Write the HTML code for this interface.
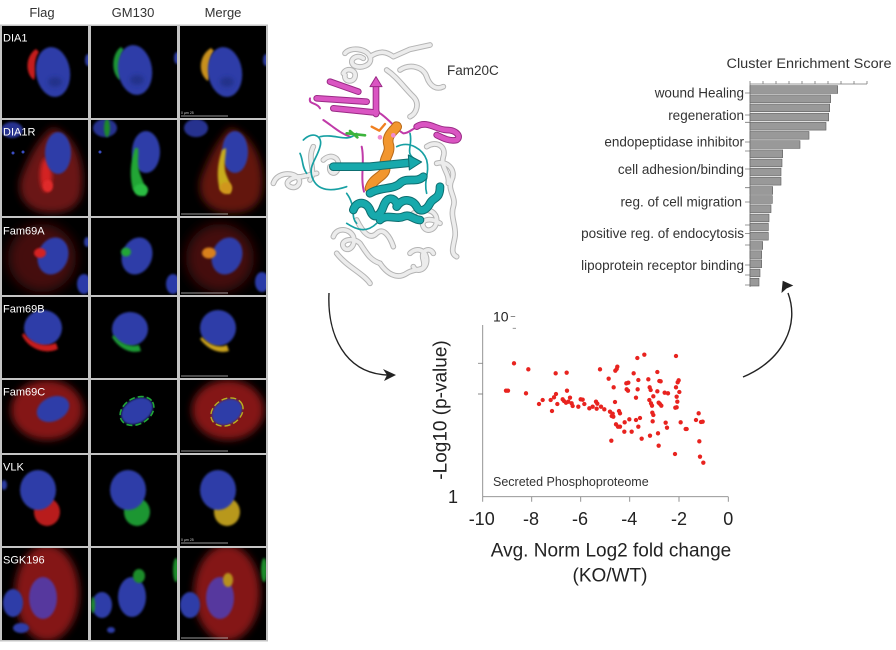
<!DOCTYPE html>
<html><head><meta charset="utf-8"><style>
html,body{margin:0;padding:0;background:#fff;}
svg{display:block;}
text{font-family:"Liberation Sans",Arial,sans-serif;}
</style></head><body>
<svg width="896" height="650" viewBox="0 0 896 650" xmlns="http://www.w3.org/2000/svg">
<defs>
<filter id="b1" x="-50%" y="-50%" width="200%" height="200%"><feGaussianBlur stdDeviation="1"/></filter>
<filter id="b2" x="-50%" y="-50%" width="200%" height="200%"><feGaussianBlur stdDeviation="2"/></filter>
<filter id="b4" x="-50%" y="-50%" width="200%" height="200%"><feGaussianBlur stdDeviation="4"/></filter>
<filter id="b6" x="-50%" y="-50%" width="200%" height="200%"><feGaussianBlur stdDeviation="6"/></filter>
</defs>
<rect width="896" height="650" fill="#fff"/>

<!-- column headers -->
<g fill="#333" font-size="13" text-anchor="middle">
<text x="42" y="17">Flag</text>
<text x="133" y="17">GM130</text>
<text x="223" y="17">Merge</text>
</g>

<!-- microscopy grid background -->
<rect x="0" y="24.5" width="268" height="617" fill="#c4c4c4"/>

<!-- ROW 1 DIA1 -->
<svg x="2" y="26" width="86" height="92"><rect width="86" height="92" fill="#000"/>
<path d="M34,23 C23,30 23,48 32,54 C35,47 30,36 37,26 Z" fill="#c41e1e" filter="url(#b1)"/>
<ellipse cx="51" cy="46" rx="17" ry="25" fill="#2e3ea8" filter="url(#b1)" transform="rotate(-8 51 46)"/>
<ellipse cx="53" cy="56" rx="7" ry="5" fill="#22308a" filter="url(#b2)"/>
<ellipse cx="86" cy="34" rx="3" ry="6" fill="#2a3aa0" filter="url(#b1)"/>
<text x="1" y="15.5" fill="#fff" font-size="11">DIA1</text>
</svg>
<svg x="91" y="26" width="86" height="92"><rect width="86" height="92" fill="#000"/>
<path d="M30,21 C20,28 20,48 29,54 C32,47 27,36 33,24 Z" fill="#1f9634" filter="url(#b1)"/>
<ellipse cx="44" cy="44" rx="17" ry="25" fill="#2e3ea8" filter="url(#b1)" transform="rotate(-8 44 44)"/>
<ellipse cx="46" cy="54" rx="7" ry="5" fill="#22308a" filter="url(#b2)"/>
<ellipse cx="86" cy="32" rx="3" ry="6" fill="#2a3aa0" filter="url(#b1)"/>
</svg>
<svg x="180" y="26" width="86" height="92"><rect width="86" height="92" fill="#000"/>
<path d="M31,22 C18,30 18,48 28,55 C32,47 27,36 34,25 Z" fill="#c8901c" filter="url(#b1)"/>
<ellipse cx="45" cy="46" rx="17" ry="25" fill="#2e3ea8" filter="url(#b1)" transform="rotate(-8 45 46)"/>
<ellipse cx="47" cy="56" rx="7" ry="5" fill="#22308a" filter="url(#b2)"/>
<ellipse cx="86" cy="34" rx="3" ry="6" fill="#2a3aa0" filter="url(#b1)"/>
<line x1="1" y1="90" x2="48" y2="90" stroke="#ccc" stroke-width="0.8"/>
<text x="1" y="88" fill="#ccc" font-size="3.5">0        µm        25</text>
</svg>

<!-- ROW 2 DIA1R -->
<svg x="2" y="120" width="86" height="96"><rect width="86" height="96" fill="#000"/>
<path d="M50,8 C70,12 84,40 80,70 C78,90 60,95 40,92 C20,88 14,70 20,55 C26,40 35,20 50,8 Z" fill="#6a1412" filter="url(#b4)"/>
<ellipse cx="44" cy="55" rx="6" ry="17" fill="#d42222" filter="url(#b2)"/>
<ellipse cx="46" cy="66" rx="5" ry="6" fill="#e02a2a" filter="url(#b1)"/>
<ellipse cx="56" cy="33" rx="13" ry="21" fill="#2e3ea8" filter="url(#b1)"/>
<ellipse cx="10" cy="10" rx="11" ry="8" fill="#25338f" filter="url(#b1)"/>
<circle cx="11" cy="33" r="1.5" fill="#3a4cc0"/><circle cx="21" cy="32" r="1.5" fill="#3a4cc0"/>
<text x="1" y="15.5" fill="#fff" font-size="11">DIA1R</text>
</svg>
<svg x="91" y="120" width="86" height="96"><rect width="86" height="96" fill="#000"/>
<ellipse cx="55" cy="32" rx="14" ry="21" fill="#2e3ea8" filter="url(#b1)"/>
<path d="M44,28 C40,40 38,55 42,70 L54,76 C58,70 50,60 48,50 C46,42 48,34 47,28 Z" fill="#22a636" filter="url(#b1)"/>
<ellipse cx="50" cy="70" rx="7" ry="6" fill="#2cbc42" filter="url(#b1)"/>
<ellipse cx="14" cy="8" rx="12" ry="9" fill="#25338f" filter="url(#b1)"/>
<ellipse cx="16" cy="8" rx="3" ry="9" fill="#1a8a2a" filter="url(#b1)"/>
<circle cx="9" cy="32" r="1.5" fill="#3a4cc0"/>
</svg>
<svg x="180" y="120" width="86" height="96"><rect width="86" height="96" fill="#000"/>
<path d="M50,8 C70,12 86,40 82,70 C80,90 62,95 42,92 C22,88 16,70 22,55 C28,40 37,20 50,8 Z" fill="#641410" filter="url(#b4)"/>
<ellipse cx="55" cy="32" rx="13" ry="21" fill="#2e3ea8" filter="url(#b1)"/>
<path d="M42,30 C38,42 36,56 40,70 L50,74 C54,66 46,58 45,50 C44,42 46,35 46,28 Z" fill="#c8ac1e" filter="url(#b1)"/>
<ellipse cx="46" cy="68" rx="6" ry="6" fill="#d0961e" filter="url(#b1)"/>
<ellipse cx="16" cy="8" rx="12" ry="9" fill="#25338f" filter="url(#b1)"/>
<line x1="1" y1="94" x2="48" y2="94" stroke="#ccc" stroke-width="0.8"/>
</svg>

<!-- ROW 3 Fam69A -->
<svg x="2" y="218" width="86" height="77"><rect width="86" height="77" fill="#000"/>
<ellipse cx="40" cy="40" rx="34" ry="34" fill="#440d0d" filter="url(#b6)"/>
<ellipse cx="51" cy="38" rx="15" ry="19" fill="#2e3ea8" filter="url(#b1)" transform="rotate(20 51 38)"/>
<ellipse cx="38" cy="35" rx="6" ry="5" fill="#d42020" filter="url(#b1)"/>
<ellipse cx="82" cy="66" rx="7" ry="10" fill="#2a3aa8" filter="url(#b1)"/>
<ellipse cx="85" cy="24" rx="3" ry="5" fill="#2a3aa0" filter="url(#b1)"/>
<text x="1" y="16.5" fill="#fff" font-size="11">Fam69A</text>
</svg>
<svg x="91" y="218" width="86" height="77"><rect width="86" height="77" fill="#000"/>
<ellipse cx="46" cy="38" rx="15" ry="19" fill="#2e3ea8" filter="url(#b1)" transform="rotate(20 46 38)"/>
<ellipse cx="35" cy="34" rx="5" ry="4.5" fill="#22a636" filter="url(#b1)"/>
<ellipse cx="82" cy="66" rx="7" ry="10" fill="#2a3aa8" filter="url(#b1)"/>
</svg>
<svg x="180" y="218" width="86" height="77"><rect width="86" height="77" fill="#000"/>
<ellipse cx="40" cy="40" rx="34" ry="34" fill="#440d0d" filter="url(#b6)"/>
<ellipse cx="47" cy="38" rx="15" ry="19" fill="#2e3ea8" filter="url(#b1)" transform="rotate(20 47 38)"/>
<ellipse cx="29" cy="35" rx="7" ry="5.5" fill="#d8801c" filter="url(#b1)"/>
<ellipse cx="82" cy="64" rx="7" ry="10" fill="#2a3aa8" filter="url(#b1)"/>
<line x1="1" y1="75" x2="48" y2="75" stroke="#ccc" stroke-width="0.8"/>
</svg>

<!-- ROW 4 Fam69B -->
<svg x="2" y="297" width="86" height="81"><rect width="86" height="81" fill="#000"/>
<ellipse cx="41" cy="31" rx="19" ry="18" fill="#2e3ea8" filter="url(#b1)"/>
<path d="M20,38 C26,52 44,58 56,52 L54,46 C44,50 30,48 22,36 Z" fill="#c81e1e" filter="url(#b1)"/>
<text x="1" y="15.5" fill="#fff" font-size="11">Fam69B</text>
</svg>
<svg x="91" y="297" width="86" height="81"><rect width="86" height="81" fill="#000"/>
<ellipse cx="39" cy="32" rx="18" ry="17" fill="#2e3ea8" filter="url(#b1)"/>
<path d="M21,40 C28,52 40,57 50,54 L48,48 C40,50 30,48 23,38 Z" fill="#1f9a34" filter="url(#b1)"/>
</svg>
<svg x="180" y="297" width="86" height="81"><rect width="86" height="81" fill="#000"/>
<ellipse cx="38" cy="31" rx="18" ry="18" fill="#2e3ea8" filter="url(#b1)"/>
<path d="M20,42 C28,53 40,57 49,54 L47,48 C40,51 30,49 22,40 Z" fill="#c8a01e" filter="url(#b1)"/>
<line x1="1" y1="79" x2="48" y2="79" stroke="#ccc" stroke-width="0.8"/>
</svg>

<!-- ROW 5 Fam69C -->
<svg x="2" y="380" width="86" height="73"><rect width="86" height="73" fill="#000"/>
<ellipse cx="45" cy="30" rx="36" ry="30" fill="#841816" filter="url(#b4)"/>
<ellipse cx="51" cy="29" rx="17" ry="12" fill="#2e3ea8" filter="url(#b1)" transform="rotate(-25 51 29)"/>
<text x="1" y="15.5" fill="#fff" font-size="11">Fam69C</text>
</svg>
<svg x="91" y="380" width="86" height="73"><rect width="86" height="73" fill="#000"/>
<ellipse cx="46" cy="31" rx="17" ry="12" fill="#2e3ea8" filter="url(#b1)" transform="rotate(-30 46 31)"/>
<ellipse cx="46" cy="31" rx="18" ry="13" fill="none" stroke="#22a636" stroke-width="1.6" stroke-dasharray="6 3" transform="rotate(-30 46 31)"/>
</svg>
<svg x="180" y="380" width="86" height="73"><rect width="86" height="73" fill="#000"/>
<ellipse cx="48" cy="30" rx="36" ry="30" fill="#841816" filter="url(#b4)"/>
<ellipse cx="47" cy="32" rx="16" ry="12" fill="#2e3ea8" filter="url(#b1)" transform="rotate(-30 47 32)"/>
<ellipse cx="47" cy="32" rx="17" ry="13" fill="none" stroke="#b8b020" stroke-width="1.4" stroke-dasharray="6 3" transform="rotate(-30 47 32)"/>
<line x1="1" y1="71" x2="48" y2="71" stroke="#ccc" stroke-width="0.8"/>
</svg>

<!-- ROW 6 VLK -->
<svg x="2" y="455" width="86" height="91"><rect width="86" height="91" fill="#000"/>
<ellipse cx="45" cy="57" rx="13" ry="14" fill="#b81c1c" filter="url(#b1)"/>
<ellipse cx="36" cy="35" rx="18" ry="20" fill="#2e3ea8" filter="url(#b1)"/>
<ellipse cx="2" cy="30" rx="3" ry="5" fill="#2a3aa0" filter="url(#b1)"/>
<text x="1" y="15.5" fill="#fff" font-size="11">VLK</text>
</svg>
<svg x="91" y="455" width="86" height="91"><rect width="86" height="91" fill="#000"/>
<ellipse cx="46" cy="57" rx="13" ry="14" fill="#1f9632" filter="url(#b1)"/>
<ellipse cx="37" cy="35" rx="18" ry="20" fill="#2e3ea8" filter="url(#b1)"/>
</svg>
<svg x="180" y="455" width="86" height="91"><rect width="86" height="91" fill="#000"/>
<ellipse cx="47" cy="57" rx="13" ry="14" fill="#b8981c" filter="url(#b1)"/>
<ellipse cx="38" cy="35" rx="18" ry="20" fill="#2e3ea8" filter="url(#b1)"/>
<line x1="1" y1="88" x2="48" y2="88" stroke="#ccc" stroke-width="0.8"/>
<text x="1" y="86" fill="#ccc" font-size="3.5">0        µm        25</text>
</svg>

<!-- ROW 7 SGK196 -->
<svg x="2" y="548" width="86" height="92"><rect width="86" height="92" fill="#000"/>
<ellipse cx="45" cy="45" rx="32" ry="48" fill="#841818" filter="url(#b4)"/>
<ellipse cx="41" cy="50" rx="14" ry="21" fill="#56389e" filter="url(#b1)"/>
<ellipse cx="11" cy="55" rx="10" ry="14" fill="#2e3ea8" filter="url(#b1)"/>
<ellipse cx="19" cy="80" rx="8" ry="5" fill="#2e3ea8" filter="url(#b1)"/>
<text x="1" y="15.5" fill="#fff" font-size="11">SGK196</text>
</svg>
<svg x="91" y="548" width="86" height="92"><rect width="86" height="92" fill="#000"/>
<ellipse cx="41" cy="49" rx="14" ry="20" fill="#2e3ea8" filter="url(#b1)"/>
<ellipse cx="11" cy="57" rx="10" ry="13" fill="#2e3ea8" filter="url(#b1)"/>
<ellipse cx="48" cy="28" rx="6" ry="7" fill="#1c8c2c" filter="url(#b1)"/>
<ellipse cx="85" cy="22" rx="3" ry="12" fill="#1c8c2c" filter="url(#b1)"/>
<ellipse cx="2" cy="57" rx="2" ry="8" fill="#1e8a2a" filter="url(#b1)"/>
<ellipse cx="20" cy="82" rx="4" ry="3" fill="#2e3ea8" filter="url(#b1)"/>
</svg>
<svg x="180" y="548" width="86" height="92"><rect width="86" height="92" fill="#000"/>
<ellipse cx="47" cy="45" rx="33" ry="48" fill="#841818" filter="url(#b4)"/>
<ellipse cx="40" cy="50" rx="14" ry="21" fill="#56389e" filter="url(#b1)"/>
<ellipse cx="10" cy="57" rx="10" ry="13" fill="#2e3ea8" filter="url(#b1)"/>
<ellipse cx="48" cy="32" rx="5" ry="7" fill="#b8901c" filter="url(#b1)"/>
<ellipse cx="84" cy="22" rx="3" ry="12" fill="#1c8c2c" filter="url(#b1)"/>
<line x1="1" y1="90" x2="48" y2="90" stroke="#ccc" stroke-width="0.8"/>
</svg>

<!-- PROTEIN STRUCTURE -->
<g transform="translate(270,20) scale(0.33333)" fill="none" stroke-linecap="round" stroke-linejoin="round">
<g stroke="#b4b4b4" stroke-width="17">
<path d="M225,100 C240,80 290,85 300,110 C310,135 270,150 250,135 C235,120 260,100 280,115"/>
<path d="M300,110 C330,90 350,95 370,110 L420,88 L480,75"/>
<path d="M220,160 C230,140 260,150 255,170 C250,190 220,185 225,165"/>
<path d="M390,150 C420,130 460,140 470,170 C480,200 500,210 520,200"/>
<path d="M470,380 C500,360 530,380 520,410 C510,440 540,460 535,490"/>
<path d="M500,430 C530,420 560,450 545,480 C530,510 560,530 550,560 C540,590 560,620 555,650 C550,680 540,700 560,710"/>
<path d="M10,490 C20,460 60,455 80,470 C100,485 80,510 60,500 C40,490 60,470 95,470 L140,460"/>
<path d="M160,420 C180,400 210,410 205,440 C200,470 175,460 180,440"/>
<path d="M190,650 C200,620 240,625 250,650 C260,680 230,700 220,680 C210,660 250,650 270,670 C290,700 300,720 330,730"/>
<path d="M330,730 C350,760 380,780 410,760 C440,740 470,760 460,720 C450,690 480,680 490,700"/>
<path d="M420,700 C440,680 470,690 470,720 C470,750 440,760 430,740"/>
<path d="M430,580 C460,560 500,570 500,600 C500,630 470,640 460,620 C450,600 480,590 510,610"/>
<path d="M130,380 C110,420 140,450 120,480"/>
<path d="M260,600 C280,640 300,660 320,640 C340,620 360,650 370,680"/>
<path d="M350,150 C380,170 400,200 430,230 C450,250 440,280 420,290"/>
<path d="M200,700 C230,740 280,760 300,790"/>
</g>
<g stroke="#ececec" stroke-width="11">
<path d="M225,100 C240,80 290,85 300,110 C310,135 270,150 250,135 C235,120 260,100 280,115"/>
<path d="M300,110 C330,90 350,95 370,110 L420,88 L480,75"/>
<path d="M220,160 C230,140 260,150 255,170 C250,190 220,185 225,165"/>
<path d="M390,150 C420,130 460,140 470,170 C480,200 500,210 520,200"/>
<path d="M470,380 C500,360 530,380 520,410 C510,440 540,460 535,490"/>
<path d="M500,430 C530,420 560,450 545,480 C530,510 560,530 550,560 C540,590 560,620 555,650 C550,680 540,700 560,710"/>
<path d="M10,490 C20,460 60,455 80,470 C100,485 80,510 60,500 C40,490 60,470 95,470 L140,460"/>
<path d="M160,420 C180,400 210,410 205,440 C200,470 175,460 180,440"/>
<path d="M190,650 C200,620 240,625 250,650 C260,680 230,700 220,680 C210,660 250,650 270,670 C290,700 300,720 330,730"/>
<path d="M330,730 C350,760 380,780 410,760 C440,740 470,760 460,720 C450,690 480,680 490,700"/>
<path d="M420,700 C440,680 470,690 470,720 C470,750 440,760 430,740"/>
<path d="M430,580 C460,560 500,570 500,600 C500,630 470,640 460,620 C450,600 480,590 510,610"/>
<path d="M130,380 C110,420 140,450 120,480"/>
<path d="M260,600 C280,640 300,660 320,640 C340,620 360,650 370,680"/>
<path d="M350,150 C380,170 400,200 430,230 C450,250 440,280 420,290"/>
<path d="M200,700 C230,740 280,760 300,790"/>
</g>
<!-- magenta -->
<g stroke="#c03aa8" stroke-width="6">
<path d="M120,235 C115,255 140,245 150,265"/>
<path d="M330,280 C360,300 380,330 400,340 C420,340 430,320 450,320"/>
<path d="M275,380 C285,420 270,470 282,515"/>
<path d="M160,300 C190,320 210,340 240,350"/>
</g>
<g stroke="#9a2a85" stroke-width="20">
<path d="M180,185 L265,215"/><path d="M140,235 L290,245"/><path d="M190,265 L320,278"/><path d="M318,282 L318,195"/>
<path d="M440,320 C470,300 500,330 530,330 C560,330 575,350 560,360 C540,365 520,355 500,345"/>
</g>
<g stroke="#da55c2" stroke-width="14">
<path d="M180,185 L265,215"/><path d="M140,235 L290,245"/><path d="M190,265 L320,278"/><path d="M318,282 L318,195"/>
<path d="M440,320 C470,300 500,330 530,330 C560,330 575,350 560,360 C540,365 520,355 500,345"/>
</g>
<polygon points="300,200 318,170 336,200" fill="#da55c2" stroke="#9a2a85" stroke-width="3"/>
<!-- teal loops -->
<g stroke="#17a0a3" stroke-width="5">
<path d="M100,360 C130,330 160,350 150,380 C140,420 110,440 130,480 C150,520 200,510 230,500"/>
<path d="M150,350 C200,340 230,370 260,340"/>
<path d="M380,380 C420,360 460,390 470,420 C480,460 460,480 470,520"/>
<path d="M90,400 C100,420 95,440 110,460"/>
<path d="M230,520 C260,560 240,590 260,610"/>
<path d="M420,340 C430,380 400,400 440,420"/>
<path d="M230,610 C260,630 290,640 320,610"/>
</g>
<!-- orange helix -->
<path d="M300,505 C310,470 350,470 345,440 C340,410 365,400 355,370 C350,345 372,332 380,320" stroke="#b86a1a" stroke-width="32"/>
<path d="M300,505 C310,470 350,470 345,440 C340,410 365,400 355,370 C350,345 372,332 380,320" stroke="#f2962e" stroke-width="26"/>
<path d="M305,320 L328,332 L345,312" stroke="#f08020" stroke-width="7"/>
<!-- teal strand & helices -->
<g stroke="#0d6e70" stroke-width="26">
<path d="M190,440 L300,440 L420,428"/>
<path d="M250,570 C260,540 290,545 300,570 C310,600 330,590 340,560 C350,530 370,530 380,550"/>
<path d="M300,520 C330,500 370,510 390,490 C410,470 440,490 460,470"/>
<path d="M380,560 C400,530 430,540 440,560 C450,580 470,570 480,550 C490,530 510,540 510,500"/>
<path d="M330,600 C350,580 380,600 400,590 C420,580 430,600 450,600"/>
</g>
<g stroke="#17a9ac" stroke-width="20">
<path d="M190,440 L300,440 L420,428"/>
<path d="M250,570 C260,540 290,545 300,570 C310,600 330,590 340,560 C350,530 370,530 380,550"/>
<path d="M300,520 C330,500 370,510 390,490 C410,470 440,490 460,470"/>
<path d="M380,560 C400,530 430,540 440,560 C450,580 470,570 480,550 C490,530 510,540 510,500"/>
<path d="M330,600 C350,580 380,600 400,590 C420,580 430,600 450,600"/>
</g>
<polygon points="415,405 455,426 418,450" fill="#17a9ac" stroke="#0d6e70" stroke-width="3"/>
<path d="M230,340 L285,346 M240,333 L262,352" stroke="#3cb43c" stroke-width="8"/>
<circle cx="330" cy="352" r="7" fill="#f08ad0" stroke="none"/>
<circle cx="370" cy="346" r="7" fill="#f08ad0" stroke="none"/>
</g>
<text x="447" y="75" font-size="13.5" fill="#333">Fam20C</text>

<!-- ARROWS -->
<g fill="none" stroke="#222" stroke-width="1.4">
<path d="M329,293 C327,335 345,373 387,375"/>
<path d="M743,377 C783,360 800,325 788,293"/>
</g>
<polygon points="396,375 383,369 387,375 384,381" fill="#222"/>
<polygon points="782.7,280.7 781.5,293 786.5,288.5 793.3,285.5" fill="#222"/>

<!-- BAR CHART -->
<text x="726.5" y="68" font-size="13.5" fill="#333" textLength="165" lengthAdjust="spacingAndGlyphs">Cluster Enrichment Score</text>
<g stroke="#777" stroke-width="0.8" fill="none">
<line x1="750" y1="84" x2="867" y2="84"/>
<line x1="750" y1="84" x2="750" y2="287"/>
<path d="M750,84v-3M763,84v-3M776,84v-3M789,84v-3M802,84v-3M815,84v-3M828,84v-3M841,84v-3M854,84v-3M867,84v-3"/>
<path d="M745,93h5M745,115h5M745,122.3h5M745,142h5M745,151h5M745,169h5M745,187.7h5M745,202h5M745,225h5M745,233.5h5M745,245h5M745,265h5M745,275h5M745,285h5"/>
</g>
<g fill="#999" stroke="#5e5e5e" stroke-width="0.6">
<rect x="750" y="85.7" width="87.7" height="7.7"/>
<rect x="750" y="94.9" width="80.7" height="7.7"/>
<rect x="750" y="104.0" width="79.7" height="7.7"/>
<rect x="750" y="113.2" width="78.7" height="7.7"/>
<rect x="750" y="122.4" width="76" height="7.7"/>
<rect x="750" y="131.5" width="59" height="7.7"/>
<rect x="750" y="140.7" width="50" height="7.7"/>
<rect x="750" y="149.9" width="32.7" height="7.7"/>
<rect x="750" y="159.1" width="32" height="7.7"/>
<rect x="750" y="168.2" width="31" height="7.7"/>
<rect x="750" y="177.4" width="31" height="7.7"/>
<rect x="750" y="186.6" width="22.7" height="7.7"/>
<rect x="750" y="195.7" width="22.3" height="7.7"/>
<rect x="750" y="204.9" width="21" height="7.7"/>
<rect x="750" y="214.1" width="19" height="7.7"/>
<rect x="750" y="223.2" width="18.3" height="7.7"/>
<rect x="750" y="232.4" width="18.3" height="7.7"/>
<rect x="750" y="241.6" width="12.7" height="7.7"/>
<rect x="750" y="250.8" width="11.7" height="7.7"/>
<rect x="750" y="259.9" width="11.7" height="7.7"/>
<rect x="750" y="269.1" width="10" height="7.7"/>
<rect x="750" y="278.3" width="9" height="7.7"/>
</g>
<g font-size="13.5" fill="#333" text-anchor="end">
<text x="744" y="97.5">wound Healing</text>
<text x="744" y="119.8">regeneration</text>
<text x="744" y="146.5">endopeptidase inhibitor</text>
<text x="744" y="173.8">cell adhesion/binding</text>
<text x="742" y="206.5">reg. of cell migration</text>
<text x="744" y="238">positive reg. of endocytosis</text>
<text x="744" y="269.8">lipoprotein receptor binding</text>
</g>

<!-- SCATTER PLOT -->
<g stroke="#888" stroke-width="0.9" fill="none">
<line x1="482.7" y1="325" x2="482.7" y2="496.7"/>
<line x1="482.7" y1="496.7" x2="728.3" y2="496.7"/>
<path d="M478,363.3h4.7M478,394h4.7M510.7,316.5h4.5M512.7,328.3h3.3"/>
<path d="M482.7,496.7v5M531.7,496.7v5M580.7,496.7v5M629.7,496.7v5M679,496.7v5M728.3,496.7v5"/>
</g>
<text x="493" y="321.5" font-size="14" fill="#222">10</text>
<text x="458" y="503" font-size="18" fill="#222" text-anchor="end">1</text>
<g font-size="18" fill="#222" text-anchor="middle">
<text x="481.7" y="525">-10</text>
<text x="531" y="525">-8</text>
<text x="580" y="525">-6</text>
<text x="629.3" y="525">-4</text>
<text x="679" y="525">-2</text>
<text x="728.3" y="525">0</text>
</g>
<text transform="translate(446.5,410) rotate(-90)" font-size="19" fill="#222" text-anchor="middle">-Log10 (p-value)</text>
<text x="611" y="556.5" font-size="19" fill="#222" text-anchor="middle">Avg. Norm Log2 fold change</text>
<text x="610" y="581.5" font-size="19" fill="#222" text-anchor="middle">(KO/WT)</text>
<text x="493" y="486" font-size="12.5" fill="#333">Secreted Phosphoproteome</text>
<g transform="translate(420,300) scale(0.33333)" fill="#e8231f">
<circle cx="258" cy="272" r="6.5"/><circle cx="264" cy="272" r="6.5"/><circle cx="282" cy="190" r="6.5"/><circle cx="325" cy="208" r="6.5"/>
<circle cx="318" cy="280" r="6.5"/><circle cx="357" cy="312" r="6.5"/><circle cx="368" cy="300" r="6.5"/><circle cx="396" cy="333" r="6.5"/>
<circle cx="392" cy="300" r="6.5"/><circle cx="402" cy="292" r="6.5"/><circle cx="408" cy="282" r="6.5"/><circle cx="407" cy="220" r="6.5"/>
<circle cx="412" cy="312" r="6.5"/><circle cx="428" cy="298" r="6.5"/><circle cx="432" cy="303" r="6.5"/><circle cx="440" cy="218" r="6.5"/>
<circle cx="438" cy="308" r="6.5"/><circle cx="445" cy="305" r="6.5"/><circle cx="441" cy="272" r="6.5"/><circle cx="450" cy="293" r="6.5"/>
<circle cx="455" cy="310" r="6.5"/><circle cx="458" cy="318" r="6.5"/><circle cx="475" cy="320" r="6.5"/><circle cx="482" cy="298" r="6.5"/>
<circle cx="488" cy="299" r="6.5"/><circle cx="493" cy="312" r="6.5"/><circle cx="508" cy="325" r="6.5"/><circle cx="518" cy="320" r="6.5"/>
<circle cx="528" cy="305" r="6.5"/><circle cx="530" cy="326" r="6.5"/><circle cx="532" cy="311" r="6.5"/><circle cx="540" cy="208" r="6.5"/>
<circle cx="543" cy="320" r="6.5"/><circle cx="553" cy="328" r="6.5"/><circle cx="566" cy="236" r="6.5"/><circle cx="570" cy="335" r="6.5"/>
<circle cx="575" cy="348" r="6.5"/><circle cx="574" cy="422" r="6.5"/><circle cx="578" cy="341" r="6.5"/><circle cx="581" cy="262" r="6.5"/>
<circle cx="585" cy="306" r="6.5"/><circle cx="588" cy="373" r="6.5"/><circle cx="586" cy="212" r="6.5"/><circle cx="590" cy="207" r="6.5"/>
<circle cx="592" cy="200" r="6.5"/><circle cx="594" cy="380" r="6.5"/><circle cx="597" cy="333" r="6.5"/><circle cx="600" cy="340" r="6.5"/>
<circle cx="613" cy="395" r="6.5"/><circle cx="614" cy="367" r="6.5"/><circle cx="619" cy="250" r="6.5"/><circle cx="620" cy="268" r="6.5"/>
<circle cx="624" cy="272" r="6.5"/><circle cx="625" cy="248" r="6.5"/><circle cx="628" cy="358" r="6.5"/><circle cx="635" cy="395" r="6.5"/>
<circle cx="641" cy="220" r="6.5"/><circle cx="648" cy="360" r="6.5"/><circle cx="648" cy="293" r="6.5"/><circle cx="652" cy="174" r="6.5"/>
<circle cx="653" cy="268" r="6.5"/><circle cx="655" cy="240" r="6.5"/><circle cx="660" cy="354" r="6.5"/><circle cx="665" cy="416" r="6.5"/>
<circle cx="673" cy="164" r="6.5"/><circle cx="685" cy="238" r="6.5"/><circle cx="688" cy="300" r="6.5"/><circle cx="690" cy="407" r="6.5"/>
<circle cx="689" cy="262" r="6.5"/><circle cx="692" cy="270" r="6.5"/><circle cx="693" cy="310" r="6.5"/><circle cx="696" cy="317" r="6.5"/>
<circle cx="697" cy="338" r="6.5"/><circle cx="698" cy="364" r="6.5"/><circle cx="700" cy="289" r="6.5"/><circle cx="712" cy="274" r="6.5"/>
<circle cx="712" cy="216" r="6.5"/><circle cx="714" cy="400" r="6.5"/><circle cx="716" cy="437" r="6.5"/><circle cx="716" cy="308" r="6.5"/>
<circle cx="718" cy="243" r="6.5"/><circle cx="720" cy="312" r="6.5"/><circle cx="722" cy="244" r="6.5"/><circle cx="724" cy="317" r="6.5"/>
<circle cx="734" cy="278" r="6.5"/><circle cx="737" cy="368" r="6.5"/><circle cx="741" cy="383" r="6.5"/><circle cx="744" cy="280" r="6.5"/>
<circle cx="765" cy="462" r="6.5"/><circle cx="768" cy="168" r="6.5"/><circle cx="768" cy="262" r="6.5"/><circle cx="770" cy="290" r="6.5"/>
<circle cx="770" cy="322" r="6.5"/><circle cx="772" cy="305" r="6.5"/><circle cx="773" cy="247" r="6.5"/><circle cx="776" cy="241" r="6.5"/>
<circle cx="778" cy="276" r="6.5"/><circle cx="782" cy="367" r="6.5"/><circle cx="797" cy="387" r="6.5"/><circle cx="800" cy="387" r="6.5"/>
<circle cx="828" cy="360" r="6.5"/><circle cx="836" cy="340" r="6.5"/><circle cx="838" cy="424" r="6.5"/><circle cx="840" cy="470" r="6.5"/>
<circle cx="843" cy="366" r="6.5"/><circle cx="848" cy="365" r="6.5"/><circle cx="850" cy="488" r="6.5"/><circle cx="766" cy="323" r="6.5"/>
<circle cx="655" cy="380" r="6.5"/><circle cx="700" cy="345" r="6.5"/><circle cx="580" cy="350" r="6.5"/><circle cx="600" cy="380" r="6.5"/>
</g>
</svg>
</body></html>
